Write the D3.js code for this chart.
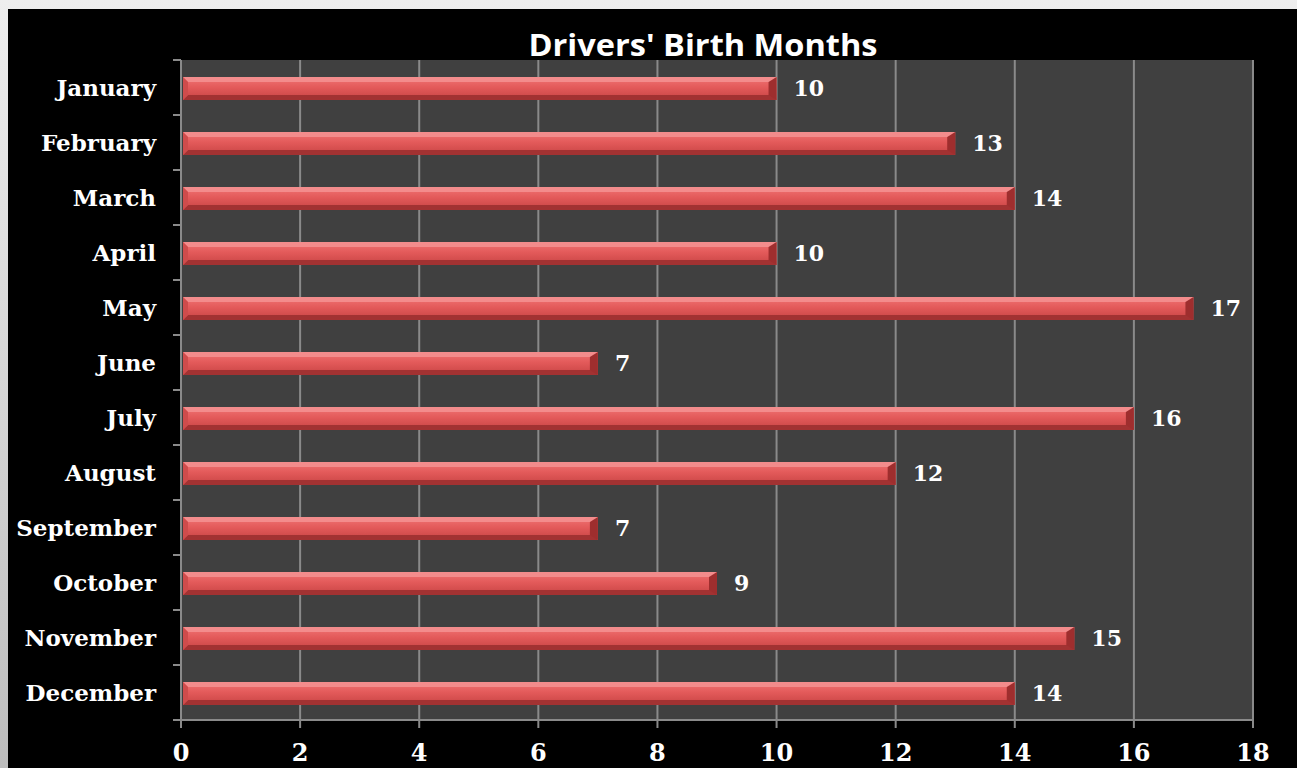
<!DOCTYPE html>
<html>
<head>
<meta charset="utf-8">
<script src="https://cdn.jsdelivr.net/npm/d3@7"></script>
<style>
  html, body { margin: 0; padding: 0; background: #ededed; overflow: hidden; }
  svg { display: block; }
</style>
</head>
<body>
<svg id="chart" width="1297" height="768"></svg>
<script>
const months = ["January", "February", "March", "April", "May", "June",
  "July", "August", "September", "October", "November", "December"];
const drivers = [10, 13, 14, 10, 17, 7, 16, 12, 7, 9, 15, 14];
const xTicks = [0, 2, 4, 6, 8, 10, 12, 14, 16, 18];

const W = 1297, H = 768;
const plot = { left: 181, right: 1253, top: 60, bottom: 720 };
const serif = "'DejaVu Serif', serif";

const svg = d3.select("#chart");
const defs = svg.append("defs");

// light frame on the left, fading down
const frame = defs.append("linearGradient").attr("id", "frame")
  .attr("x1", 0).attr("y1", 0).attr("x2", 0).attr("y2", 1);
frame.append("stop").attr("offset", "0%").attr("stop-color", "#eeeeee");
frame.append("stop").attr("offset", "100%").attr("stop-color", "#bdbdbd");

const barGrad = defs.append("linearGradient").attr("id", "bar")
  .attr("x1", 0).attr("y1", 0).attr("x2", 0).attr("y2", 1);
[["0%", "#f07474"], ["45%", "#e35a5a"], ["100%", "#c84444"]].forEach(([o, c]) =>
  barGrad.append("stop").attr("offset", o).attr("stop-color", c));

svg.append("rect").attr("width", W).attr("height", H).attr("fill", "url(#frame)");
svg.append("rect").attr("x", 8).attr("y", 9).attr("width", W - 8).attr("height", H - 9)
  .attr("fill", "#000");

const x = d3.scaleLinear().domain([0, 18]).range([plot.left, plot.right]);
const yb = d3.scaleBand().domain(months).range([plot.top, plot.bottom]);
const bh = 23;

svg.append("rect")
  .attr("x", plot.left).attr("y", plot.top)
  .attr("width", plot.right - plot.left).attr("height", plot.bottom - plot.top)
  .attr("fill", "#404040");

// vertical gridlines
svg.append("g").selectAll("line").data(xTicks.slice(1)).join("line")
  .attr("x1", d => x(d)).attr("x2", d => x(d))
  .attr("y1", plot.top).attr("y2", plot.bottom)
  .attr("stroke", "#8a8a8a").attr("stroke-width", 2);

// bars, drawn as bevelled blocks
const bars = svg.append("g").selectAll("g").data(months).join("g")
  .attr("transform", (m) => `translate(0,${yb(m) + yb.bandwidth() / 2 - bh / 2 + 1})`);
const b = 5;
const x0 = x(0) + 2;

bars.append("rect")
  .attr("x", x0)
  .attr("width", (m, i) => x(drivers[i]) - x0)
  .attr("height", bh)
  .attr("fill", "url(#bar)");

const bevel = (fill, shape) => bars.append("path")
  .attr("d", (m, i) => shape(x(drivers[i])))
  .attr("fill", fill);

bevel("#f38c8c", xe => `M${x0},0 L${xe},0 L${xe - b},${b} L${x0 + b},${b} Z`);
bevel("#a23232", xe => `M${x0},${bh} L${xe},${bh} L${xe - b},${bh - b} L${x0 + b},${bh - b} Z`);
bevel("#cf4c4c", xe => `M${x0},0 L${x0 + b},${b} L${x0 + b},${bh - b} L${x0},${bh} Z`);
bevel("#9e2e2e", xe => `M${xe},0 L${xe - b - 3},${b} L${xe - b - 3},${bh - b} L${xe},${bh} Z`);

// value labels
bars.append("text")
  .attr("x", (m, i) => x(drivers[i]) + 17)
  .attr("y", bh / 2 + 7)
  .attr("fill", "#fff")
  .attr("font-family", serif).attr("font-weight", "bold").attr("font-size", 22)
  .text((m, i) => drivers[i]);

// y axis
const yAxis = svg.append("g").attr("transform", `translate(${plot.left},0)`);
yAxis.append("line").attr("y1", plot.top).attr("y2", plot.bottom)
  .attr("stroke", "#8a8a8a").attr("stroke-width", 2);
yAxis.selectAll("line.tick").data(d3.range(13)).join("line").attr("class", "tick")
  .attr("x1", -8).attr("x2", 0)
  .attr("y1", i => plot.top + i * yb.bandwidth()).attr("y2", i => plot.top + i * yb.bandwidth())
  .attr("stroke", "#8a8a8a").attr("stroke-width", 2);
yAxis.selectAll("text").data(months).join("text")
  .attr("x", -25)
  .attr("y", m => yb(m) + yb.bandwidth() / 2 + 8)
  .attr("text-anchor", "end")
  .attr("fill", "#fff")
  .attr("font-family", serif).attr("font-weight", "bold").attr("font-size", 23)
  .text(m => m);

// x axis
const xAxis = svg.append("g").attr("transform", `translate(0,${plot.bottom})`);
xAxis.append("line").attr("x1", plot.left - 1).attr("x2", plot.right + 1)
  .attr("stroke", "#8a8a8a").attr("stroke-width", 2);
xAxis.selectAll("line.tick").data(xTicks).join("line").attr("class", "tick")
  .attr("x1", d => x(d)).attr("x2", d => x(d))
  .attr("y1", 0).attr("y2", 8)
  .attr("stroke", "#8a8a8a").attr("stroke-width", 2);
xAxis.selectAll("text").data(xTicks).join("text")
  .attr("x", d => x(d))
  .attr("y", 41)
  .attr("text-anchor", "middle")
  .attr("fill", "#fff")
  .attr("font-family", serif).attr("font-weight", "bold").attr("font-size", 24)
  .text(d => d);

// title
svg.append("text")
  .attr("x", 703).attr("y", 56)
  .attr("text-anchor", "middle")
  .attr("fill", "#fff")
  .attr("font-family", "'Open Sans', sans-serif").attr("font-weight", "bold").attr("font-size", 31)
  .attr("textLength", 349).attr("lengthAdjust", "spacingAndGlyphs")
  .text("Drivers' Birth Months");
</script>
</body>
</html>
